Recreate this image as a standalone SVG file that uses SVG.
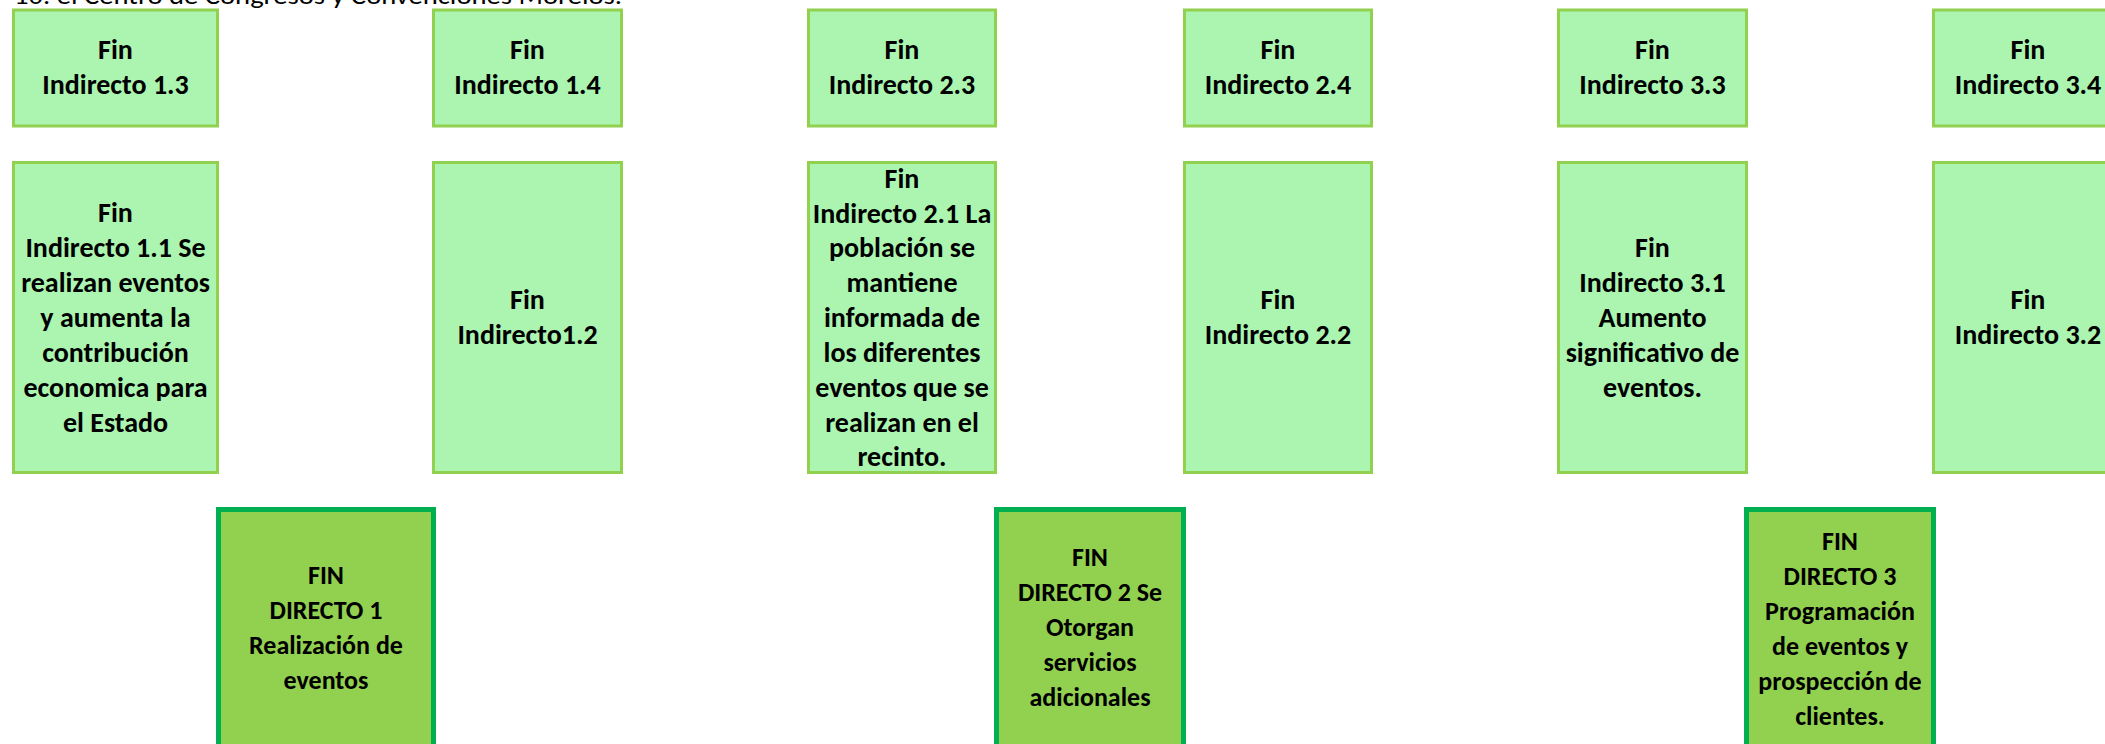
<svg xmlns="http://www.w3.org/2000/svg" width="2105" height="744" viewBox="0 0 2105 744">
<style>
.ind{fill:#ABF5B1;stroke:#92D050;stroke-width:3}
.dir{fill:#92D050;stroke:#00B050;stroke-width:5}
.t{font-family:Carlito,Calibri,Lato,"Liberation Sans",sans-serif;font-weight:bold;font-size:28px;fill:#000;text-anchor:middle}
.d{font-size:26px}
.hdr{font-family:Carlito,Calibri,Lato,"Liberation Sans",sans-serif;font-size:25px;fill:#000}
</style>
<rect width="2105" height="744" fill="#fff"/>
<text class="hdr" x="14" y="4" textLength="608" lengthAdjust="spacingAndGlyphs">10. el Centro de Congresos y Convenciones Morelos.</text>

<g id="fin-indirecto-1-3">
<rect class="ind" x="13.5" y="10" width="204" height="116"/>
<text class="t" x="115.5" y="59">Fin</text>
<text class="t" x="115.5" y="94">Indirecto 1.3</text>
</g>
<g id="fin-indirecto-1-4">
<rect class="ind" x="433.5" y="10" width="188" height="116"/>
<text class="t" x="527.5" y="59">Fin</text>
<text class="t" x="527.5" y="94">Indirecto 1.4</text>
</g>
<g id="fin-indirecto-2-3">
<rect class="ind" x="808.5" y="10" width="187" height="116"/>
<text class="t" x="902" y="59">Fin</text>
<text class="t" x="902" y="94">Indirecto 2.3</text>
</g>
<g id="fin-indirecto-2-4">
<rect class="ind" x="1184.5" y="10" width="187" height="116"/>
<text class="t" x="1278" y="59">Fin</text>
<text class="t" x="1278" y="94">Indirecto 2.4</text>
</g>
<g id="fin-indirecto-3-3">
<rect class="ind" x="1558.5" y="10" width="188" height="116"/>
<text class="t" x="1652.5" y="59">Fin</text>
<text class="t" x="1652.5" y="94">Indirecto 3.3</text>
</g>
<g id="fin-indirecto-3-4">
<rect class="ind" x="1933.5" y="10" width="188" height="116"/>
<text class="t" x="2028" y="59">Fin</text>
<text class="t" x="2028" y="94">Indirecto 3.4</text>
</g>

<g id="fin-indirecto-1-1">
<rect class="ind" x="13.5" y="162.5" width="204" height="310"/>
<text class="t" x="115.5" y="222">Fin</text>
<text class="t" x="115.5" y="257">Indirecto 1.1 Se</text>
<text class="t" x="115.5" y="292">realizan eventos</text>
<text class="t" x="115.5" y="327">y aumenta la</text>
<text class="t" x="115.5" y="362">contribución</text>
<text class="t" x="115.5" y="397">economica para</text>
<text class="t" x="115.5" y="432">el Estado</text>
</g>
<g id="fin-indirecto-1-2">
<rect class="ind" x="433.5" y="162.5" width="188" height="310"/>
<text class="t" x="527.5" y="309">Fin</text>
<text class="t" x="527.5" y="344">Indirecto1.2</text>
</g>
<g id="fin-indirecto-2-1">
<rect class="ind" x="808.5" y="162.5" width="187" height="310"/>
<text class="t" x="902" y="188">Fin</text>
<text class="t" x="902" y="223">Indirecto 2.1 La</text>
<text class="t" x="902" y="257">población se</text>
<text class="t" x="902" y="292">mantiene</text>
<text class="t" x="902" y="327">informada de</text>
<text class="t" x="902" y="362">los diferentes</text>
<text class="t" x="902" y="397">eventos que se</text>
<text class="t" x="902" y="432">realizan en el</text>
<text class="t" x="902" y="466">recinto.</text>
</g>
<g id="fin-indirecto-2-2">
<rect class="ind" x="1184.5" y="162.5" width="187" height="310"/>
<text class="t" x="1278" y="309">Fin</text>
<text class="t" x="1278" y="344">Indirecto 2.2</text>
</g>
<g id="fin-indirecto-3-1">
<rect class="ind" x="1558.5" y="162.5" width="188" height="310"/>
<text class="t" x="1652.5" y="257">Fin</text>
<text class="t" x="1652.5" y="292">Indirecto 3.1</text>
<text class="t" x="1652.5" y="327">Aumento</text>
<text class="t" x="1652.5" y="362">significativo de</text>
<text class="t" x="1652.5" y="397">eventos.</text>
</g>
<g id="fin-indirecto-3-2">
<rect class="ind" x="1933.5" y="162.5" width="188" height="310"/>
<text class="t" x="2028" y="309">Fin</text>
<text class="t" x="2028" y="344">Indirecto 3.2</text>
</g>

<g id="fin-directo-1">
<rect class="dir" x="218.5" y="509.5" width="215" height="245"/>
<text class="t d" x="326" y="584">FIN</text>
<text class="t d" x="326" y="619">DIRECTO 1</text>
<text class="t d" x="326" y="654">Realización de</text>
<text class="t d" x="326" y="689">eventos</text>
</g>
<g id="fin-directo-2">
<rect class="dir" x="996.5" y="509.5" width="187" height="245"/>
<text class="t d" x="1090" y="566">FIN</text>
<text class="t d" x="1090" y="601">DIRECTO 2 Se</text>
<text class="t d" x="1090" y="636">Otorgan</text>
<text class="t d" x="1090" y="671">servicios</text>
<text class="t d" x="1090" y="706">adicionales</text>
</g>
<g id="fin-directo-3">
<rect class="dir" x="1746.5" y="509.5" width="187" height="245"/>
<text class="t d" x="1840" y="550">FIN</text>
<text class="t d" x="1840" y="585">DIRECTO 3</text>
<text class="t d" x="1840" y="620">Programación</text>
<text class="t d" x="1840" y="655">de eventos y</text>
<text class="t d" x="1840" y="690">prospección de</text>
<text class="t d" x="1840" y="725">clientes.</text>
</g>

<g id="connectors"></g>
</svg>
